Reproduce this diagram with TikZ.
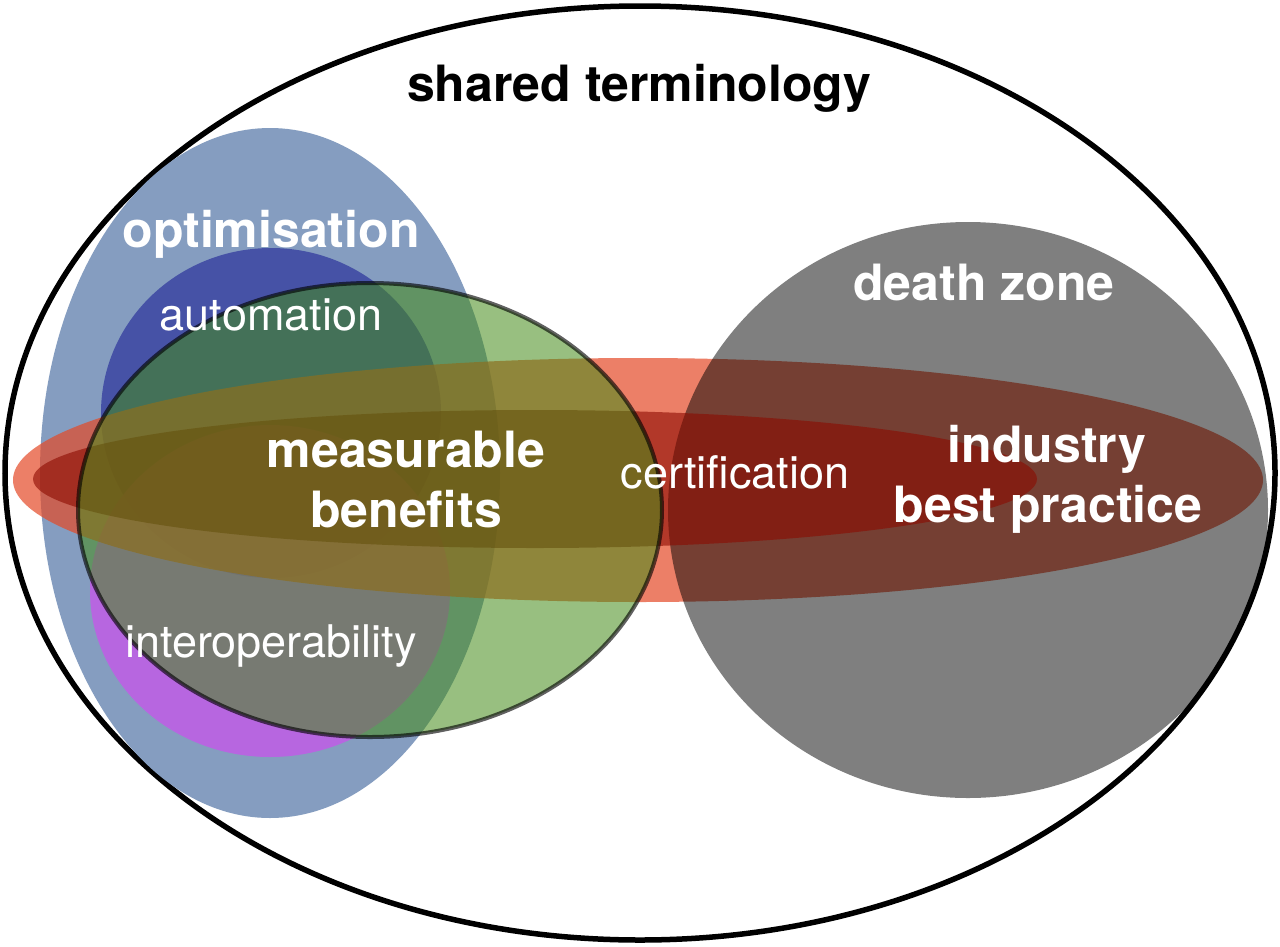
\documentclass[tikz,border=0pt]{standalone}
\usepackage{fontspec}
\setmainfont{TeX Gyre Heros}
\definecolor{optblue}{RGB}{133,157,192}
\definecolor{autoblue}{RGB}{70,82,166}
\definecolor{interpurple}{RGB}{201,84,235}
\definecolor{salmonred}{RGB}{228,74,39}
\definecolor{innerred}{RGB}{140,10,0}
\definecolor{benefitgreen}{RGB}{68,140,24}
\tikzset{
  boldlabel/.style={font=\fontsize{50}{60}\selectfont\bfseries, text=white, anchor=base, inner sep=0pt},
  plainlabel/.style={font=\fontsize{45}{54}\selectfont, text=white, anchor=base, inner sep=0pt},
}
\begin{document}
\begin{tikzpicture}[x=1pt,y=-1pt]
\useasboundingbox (0,0) rectangle (1280,946);
\fill[white] (0,0) rectangle (1280,946);
% shared terminology
\draw[line width=5.5pt, fill=white] (640,473) ellipse [x radius=635pt, y radius=467pt];
% optimisation
\fill[optblue] (270,473) ellipse [x radius=230pt, y radius=345pt];
% automation
\fill[autoblue] (271,413) ellipse [x radius=170pt, y radius=165pt];
% interoperability
\fill[interpurple, opacity=0.75] (270,591) ellipse [x radius=180pt, y radius=166pt];
% industry best practice (outer band)
\fill[salmonred, opacity=0.7] (638,480) ellipse [x radius=625pt, y radius=122pt];
% death zone
\fill[black, opacity=0.5] (968,510) ellipse [x radius=300pt, y radius=288pt];
% certification (inner band)
\fill[innerred, opacity=0.6] (535,479) ellipse [x radius=502pt, y radius=69pt];
% measurable benefits
\filldraw[fill=benefitgreen, fill opacity=0.55, draw=black, draw opacity=0.62, line width=4pt] (370,510) ellipse [x radius=292pt, y radius=227pt];

\node[boldlabel, text=black] (shared) at (639,101) {shared terminology};
\node[boldlabel] (optim) at (271,247) {optimisation};
\node[plainlabel] (auto) at (271,330) {automation};
\node[boldlabel] (meas1) at (406,467) {measurable};
\node[boldlabel] (meas2) at (406,527) {benefits};
\node[plainlabel] (cert) at (735,488) {certification};
\node[boldlabel] (ind1) at (1047,462) {industry};
\node[boldlabel] (ind2) at (1048,522) {best practice};
\node[boldlabel] (death) at (984,300) {death zone};
\node[plainlabel] (inter) at (271,657) {interoperability};
\end{tikzpicture}
\end{document}
